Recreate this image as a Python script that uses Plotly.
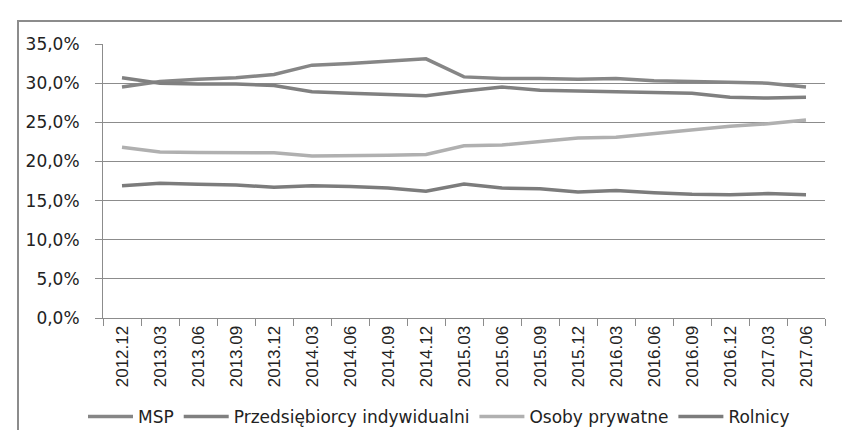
import plotly.graph_objects as go

categories = ["2012.12", "2013.03", "2013.06", "2013.09", "2013.12", "2014.03", "2014.06",
              "2014.09", "2014.12", "2015.03", "2015.06", "2015.09", "2015.12", "2016.03",
              "2016.06", "2016.09", "2016.12", "2017.03", "2017.06"]

msp = [29.5, 30.2, 30.5, 30.7, 31.1, 32.3, 32.5, 32.8, 33.1, 30.8, 30.6, 30.6, 30.5, 30.6,
       30.3, 30.2, 30.1, 30.0, 29.5]
przedsiebiorcy = [30.7, 30.0, 29.9, 29.9, 29.7, 28.9, 28.7, 28.5, 28.4, 29.0, 29.5, 29.1, 29.0,
                  29.0, 28.8, 28.7, 28.2, 28.1, 28.2]
osoby = [21.8, 21.2, 21.15, 21.1, 21.1, 20.7, 20.7, 20.8, 20.9, 22.0, 22.1, 22.5, 23.0, 23.1,
         23.6, 24.0, 24.5, 24.8, 25.3]
rolnicy = [16.9, 17.2, 17.1, 17.0, 16.7, 16.9, 16.8, 16.6, 16.2, 17.1, 16.6, 16.5, 16.1, 16.3,
           16.0, 15.8, 15.75, 15.9, 15.75]

series_names = ["MSP", "Przedsiębiorcy indywidualni", "Osoby prywatne", "Rolnicy"]
series_values = [msp, przedsiebiorcy, osoby, rolnicy]
series_colors = ["#868686", "#808080", "#b0b0b0", "#7c7c7c"]

ytick_vals = [0, 5, 10, 15, 20, 25, 30, 35]
ytick_text = ["0,0%", "5,0%", "10,0%", "15,0%", "20,0%", "25,0%", "30,0%", "35,0%"]

fig = go.Figure()
for name, vals, col in zip(series_names, series_values, series_colors):
    fig.add_trace(go.Scatter(x=categories, y=vals, name=name, mode="lines",
                             line=dict(color=col, width=3.5)))

L, R, T, B = 95, 33, 36, 120
W, H = 850, 430
pw, ph = W - L - R, H - T - B

fig.update_layout(
    width=W, height=H,
    margin=dict(l=L, r=R, t=T, b=B, autoexpand=False),
    paper_bgcolor="white", plot_bgcolor="white",
    showlegend=True,
    legend=dict(orientation="h", xref="paper", x=(431 - L) / pw, xanchor="center",
                yref="paper", y=(T + ph - 409) / ph, yanchor="middle",
                font=dict(family="DejaVu Sans", size=17, color="#222"),
                itemwidth=45, bgcolor="rgba(0,0,0,0)"),
    xaxis=dict(type="category", showgrid=False, showline=True, linecolor="#8c8c8c",
               linewidth=1, ticks="outside", tickson="boundaries", ticklen=7,
               tickcolor="#8c8c8c", tickangle=-90, automargin=False,
               tickfont=dict(family="Liberation Sans, Arial", size=17, color="#222"),
               range=[-0.5, len(categories) - 0.5]),
    yaxis=dict(range=[0, 35], tickvals=ytick_vals, ticktext=ytick_text,
               showgrid=True, gridcolor="#8c8c8c", gridwidth=1,
               showline=True, linecolor="#8c8c8c", linewidth=1, automargin=False,
               ticks="outside", ticklen=7, tickcolor="#8c8c8c", ticklabelstandoff=12,
               tickfont=dict(family="DejaVu Sans", size=17, color="#222"),
               zeroline=False),
    shapes=[dict(type="rect", xref="paper", yref="paper",
                 x0=(10 - L) / pw, x1=(848 - L) / pw,
                 y0=(T + ph - 445) / ph, y1=(T + ph - 13) / ph,
                 line=dict(color="#8c8c8c", width=2), fillcolor="rgba(0,0,0,0)", layer="below")],
)

fig.write_html("out.html")
